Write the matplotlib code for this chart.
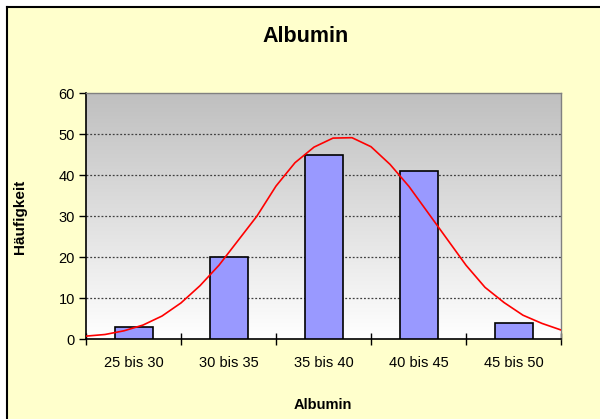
import numpy as np
import matplotlib
matplotlib.use("Agg")
import matplotlib.pyplot as plt
from matplotlib.patches import Rectangle
from matplotlib.lines import Line2D

categories = ["25 bis 30", "30 bis 35", "35 bis 40", "40 bis 45", "45 bis 50"]
counts = [3, 20, 45, 41, 4]

curve_x = [25, 26, 27, 28, 29, 30, 31, 32, 33, 34, 35, 36, 37, 38, 39,
           40, 41, 42, 43, 44, 45, 46, 47, 48, 49, 50]
curve_y = [0.7, 1.1, 2.0, 3.4, 5.6, 8.8, 13.0, 18.0, 24.0, 30.0, 37.3, 43.0,
           46.8, 49.0, 49.1, 46.9, 42.6, 37.2, 30.8, 24.4, 18.0, 12.6, 8.9,
           5.8, 3.8, 2.2]

y_ticks = [0, 10, 20, 30, 40, 50, 60]

title = "Albumin"
xlabel = "Albumin"
ylabel = "Häufigkeit"

plt.rcParams['font.family'] = ['Liberation Sans', 'DejaVu Sans']

W, H = 600, 419
fig = plt.figure(figsize=(W / 100, H / 100), dpi=100)
fig.patch.set_facecolor("white")

# chart area background with black top/left border
fig.patches.append(Rectangle((7 / W, 0), 1 - 7 / W, 1 - 7 / H,
                             transform=fig.transFigure, facecolor="#FFFFCC",
                             edgecolor="none", zorder=-10))
fig.lines.append(Line2D([7 / W, 7 / W], [0, 1 - 7 / H], transform=fig.transFigure,
                        color="black", lw=1.5, zorder=-9))
fig.lines.append(Line2D([7 / W, 1], [1 - 7 / H, 1 - 7 / H], transform=fig.transFigure,
                        color="black", lw=1.5, zorder=-9))

left, right, top, bottom = 86, 561, 93, 339
ax = fig.add_axes([left / W, 1 - bottom / H, (right - left) / W, (bottom - top) / H])

# gradient background
grad = np.linspace(0, 1, 256).reshape(-1, 1)
top_c = np.array([0.75, 0.75, 0.75])
bot_c = np.array([1.0, 1.0, 1.0])
img = top_c * (1 - grad[..., None]) + bot_c * grad[..., None]
img = img.reshape(256, 1, 3)
ax.imshow(img, extent=[-0.5, 4.5, 0, 60], aspect="auto", origin="upper", zorder=0)

x = np.arange(len(categories))
ax.bar(x, counts, width=0.4, color="#9999FF", edgecolor="black", linewidth=1.2, zorder=3)

cx = [(v - 25) / 5 - 0.5 for v in curve_x]
ax.plot(cx, curve_y, color="red", lw=1.2, zorder=4)

ax.set_xlim(-0.5, 4.5)
ax.set_ylim(0, 60)
ax.set_yticks(y_ticks)
ax.set_yticklabels([str(t) for t in y_ticks], fontsize=10.5)
for t in y_ticks[1:-1]:
    ax.axhline(t, color="#404040", lw=0.9, ls=(0, (1.5, 1.5)), zorder=1)

ax.set_xticks(x)
ax.set_xticklabels(categories, fontsize=10.5)
ax.set_xticks(np.arange(-0.5, 5.0, 1.0), minor=True)
ax.tick_params(axis="x", which="major", length=0, pad=12)
ax.tick_params(axis="x", which="minor", length=8, direction="inout", width=1)
ax.tick_params(axis="y", length=5, direction="out", width=1, pad=3)

for s in ["top", "right"]:
    ax.spines[s].set_color("#808080")
    ax.spines[s].set_linewidth(1)
for s in ["left", "bottom"]:
    ax.spines[s].set_color("black")
    ax.spines[s].set_linewidth(1.2)

fig.text(306 / W, 1 - 36 / H, title, ha="center", va="center",
         fontsize=15.5, fontweight="bold")
fig.text(323 / W, 1 - 405 / H, xlabel, ha="center", va="center",
         fontsize=10.5, fontweight="bold")
fig.text(20 / W, 1 - 217 / H, ylabel, ha="center", va="center",
         fontsize=11, fontweight="bold", rotation=90)

fig.savefig("out.png", dpi=100)
